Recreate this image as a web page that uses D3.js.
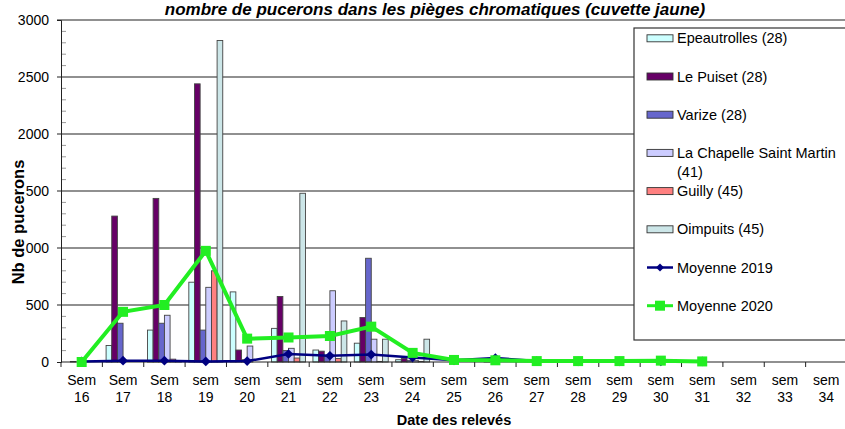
<!DOCTYPE html>
<html>
<head>
<meta charset="utf-8">
<script src="https://cdn.jsdelivr.net/npm/d3@7"></script>
<style>
body { margin: 0; background: #fff; }
text { font-family: Arial, "Liberation Sans", sans-serif; fill: #000; }
</style>
</head>
<body>
<script>
// semaines des relevés
var weeks = ["16","17","18","19","20","21","22","23","24","25","26","27","28","29","30","31","32","33","34"];
var weekPrefix = ["Sem","Sem","Sem","sem","sem","sem","sem","sem","sem","sem","sem","sem","sem","sem","sem","sem","sem","sem","sem"];

// pièges (barres)
var epeautrolles = [0, 145, 280, 700, 615, 295, 105, 165, 20, 0, 0, 0, 0, 0, 0, 0, 0, 0, 0];
var lePuiset     = [5, 1280, 1435, 2440, 105, 575, 95, 390, 30, 0, 5, 0, 0, 0, 0, 0, 0, 0, 0];
var varize       = [0, 340, 340, 280, 20, 100, 50, 910, 15, 0, 0, 0, 0, 0, 0, 0, 0, 0, 0];
var laChapelle   = [0, 0, 410, 655, 140, 120, 625, 200, 15, 0, 0, 0, 0, 0, 0, 0, 0, 0, 0];
var guilly       = [0, 0, 25, 800, 0, 35, 30, 5, 5, 0, 0, 0, 0, 0, 0, 0, 0, 0, 0];
var oimpuits     = [0, 0, 5, 2820, 0, 1480, 360, 200, 200, 0, 0, 0, 0, 0, 0, 0, 0, 0, 0];

// moyennes (courbes)
var moyenne2019 = [5, 12, 12, 5, 8, 70, 55, 65, 40, 15, 35, 8, 5, 5, 5, 5, null, null, null];
var moyenne2020 = [0, 440, 500, 975, 205, 215, 228, 310, 80, 18, 15, 8, 8, 8, 12, 5, null, null, null];

var barNames = ["Epeautrolles (28)", "Le Puiset (28)", "Varize (28)", "La Chapelle Saint Martin (41)", "Guilly (45)", "Oimpuits (45)"];
var barValues = [epeautrolles, lePuiset, varize, laChapelle, guilly, oimpuits];
var barColors = ["#CCFFFF", "#660066", "#6666CC", "#CCCCFF", "#FF8080", "#CCE6E8"];
var yTicks = [0, 500, 1000, 1500, 2000, 2500, 3000];

/** dimensions */
var margin = { top: 20, right: -2, bottom: 67, left: 61 },
    width = 845 - margin.left - margin.right,
    height = 429 - margin.top - margin.bottom;

var x0 = d3.scaleBand().domain(weeks).range([0, width]);
var bw = x0.bandwidth();
var x1 = d3.scaleBand().domain(barNames).range([bw * 0.09, bw * 0.91]);
var y = d3.scaleLinear().domain([0, 3000]).range([height, 0]);

var svg = d3.select("body").append("svg")
    .attr("width", 845)
    .attr("height", 429);

var g = svg.append("g")
    .attr("transform", "translate(" + margin.left + "," + margin.top + ")");

// grille horizontale
g.append("g").selectAll("line")
    .data(yTicks.slice(1))
    .enter().append("line")
    .attr("x1", -4).attr("x2", width)
    .attr("y1", function (d) { return y(d); })
    .attr("y2", function (d) { return y(d); })
    .attr("stroke", "#222").attr("stroke-width", 1.2);

// petites graduations tous les 100
g.append("g").selectAll("line")
    .data(d3.range(0, 3001, 100).filter(function (d) { return d % 500 != 0; }))
    .enter().append("line")
    .attr("x1", 1).attr("x2", 5)
    .attr("y1", function (d) { return y(d); })
    .attr("y2", function (d) { return y(d); })
    .attr("stroke", "#999").attr("stroke-width", 1);

// barres
barNames.forEach(function (name, s) {
    g.append("g").selectAll("rect")
        .data(barValues[s].map(function (v, i) { return { week: weeks[i], v: v }; })
            .filter(function (d) { return d.v > 0; }))
        .enter().append("rect")
        .attr("x", function (d) { return x0(d.week) + x1(name); })
        .attr("width", x1.bandwidth())
        .attr("y", function (d) { return y(d.v); })
        .attr("height", function (d) { return height - y(d.v); })
        .attr("fill", barColors[s])
        .attr("stroke", "#444")
        .attr("stroke-width", 0.9);
});

// axes
var yAxis = d3.axisLeft(y).tickValues(yTicks).tickFormat(d3.format("d")).tickSize(4).tickPadding(8);
g.append("g").call(yAxis)
    .call(function (a) {
        a.select(".domain").attr("stroke", "#222");
        a.selectAll(".tick line").remove();
        a.selectAll("text").attr("font-size", "14px").attr("font-family", "Arial, 'Liberation Sans', sans-serif");
    });

var xAxisG = g.append("g").attr("transform", "translate(0," + height + ")");
xAxisG.append("line")
    .attr("x1", 0).attr("x2", width)
    .attr("stroke", "#222").attr("stroke-width", 1.2);
xAxisG.selectAll("line.tk")
    .data(d3.range(weeks.length + 1))
    .enter().append("line")
    .attr("class", "tk")
    .attr("x1", function (i) { return i * bw; })
    .attr("x2", function (i) { return i * bw; })
    .attr("y1", 0).attr("y2", 5)
    .attr("stroke", "#222");
var xl = xAxisG.selectAll("text.wk")
    .data(weeks)
    .enter().append("text")
    .attr("class", "wk")
    .attr("x", function (d) { return x0(d) + bw / 2; })
    .attr("text-anchor", "middle")
    .attr("font-size", "14px");
xl.append("tspan").attr("x", function (d) { return x0(d) + bw / 2; }).attr("y", 23)
    .text(function (d, i) { return weekPrefix[i]; });
xl.append("tspan").attr("x", function (d) { return x0(d) + bw / 2; }).attr("y", 40)
    .text(function (d) { return d; });

// courbes des moyennes
var line = d3.line()
    .defined(function (d) { return d != null; })
    .x(function (d, i) { return x0(weeks[i]) + bw / 2; })
    .y(function (d) { return y(d); });

g.append("path").datum(moyenne2019)
    .attr("d", line)
    .attr("fill", "none").attr("stroke", "#000080").attr("stroke-width", 2.5);
g.append("g").selectAll("path")
    .data(moyenne2019.map(function (v, i) { return { week: weeks[i], v: v }; }).filter(function (d) { return d.v != null; }))
    .enter().append("path")
    .attr("d", d3.symbol().type(d3.symbolDiamond2).size(60))
    .attr("transform", function (d) { return "translate(" + (x0(d.week) + bw / 2) + "," + y(d.v) + ")"; })
    .attr("fill", "#000080");

g.append("path").datum(moyenne2020)
    .attr("d", line)
    .attr("fill", "none").attr("stroke", "#22EE22").attr("stroke-width", 4);
g.append("g").selectAll("rect")
    .data(moyenne2020.map(function (v, i) { return { week: weeks[i], v: v }; }).filter(function (d) { return d.v != null; }))
    .enter().append("rect")
    .attr("x", function (d) { return x0(d.week) + bw / 2 - 5; })
    .attr("y", function (d) { return y(d.v) - 5; })
    .attr("width", 10).attr("height", 10)
    .attr("fill", "#22EE22");

// légende
var legend = svg.append("g").attr("transform", "translate(634,28)");
legend.append("rect")
    .attr("width", 230).attr("height", 312)
    .attr("fill", "#fff").attr("stroke", "#333").attr("stroke-width", 1.2);

var legendItems = barNames.map(function (n, i) { return { name: n, type: "bar", color: barColors[i] }; })
    .concat([{ name: "Moyenne 2019", type: "line", color: "#000080" },
             { name: "Moyenne 2020", type: "line", color: "#22EE22" }]);

legendItems.forEach(function (it, i) {
    var row = legend.append("g").attr("transform", "translate(0," + (10.3 + i * 38.2) + ")");
    if (it.type == "bar") {
        row.append("rect").attr("x", 13).attr("y", -3.5).attr("width", 26).attr("height", 7)
            .attr("fill", it.color).attr("stroke", "#333").attr("stroke-width", 0.9);
    } else {
        row.append("line").attr("x1", 13).attr("x2", 39)
            .attr("stroke", it.color).attr("stroke-width", it.name == "Moyenne 2020" ? 3 : 2.5);
        if (it.name == "Moyenne 2020") {
            row.append("rect").attr("x", 21).attr("y", -5).attr("width", 10).attr("height", 10).attr("fill", it.color);
        } else {
            row.append("path").attr("d", d3.symbol().type(d3.symbolDiamond2).size(40))
                .attr("transform", "translate(26,0)").attr("fill", it.color);
        }
    }
    var t = row.append("text").attr("x", 43).attr("y", 5).attr("font-size", "14.5px");
    if (it.name.indexOf("La Chapelle") == 0) {
        t.append("tspan").attr("x", 43).text("La Chapelle Saint Martin");
        t.append("tspan").attr("x", 43).attr("dy", 19).text("(41)");
    } else {
        t.text(it.name);
    }
});

// titres
svg.append("text")
    .attr("x", 435).attr("y", 15)
    .attr("text-anchor", "middle")
    .attr("font-size", "17px").attr("font-weight", "bold").attr("font-style", "italic")
    .text("nombre de pucerons dans les pièges chromatiques (cuvette jaune)");

svg.append("text")
    .attr("x", margin.left + width / 2).attr("y", 425)
    .attr("text-anchor", "middle")
    .attr("font-size", "14.5px").attr("font-weight", "bold")
    .text("Date des relevés");

var yt = svg.append("g").attr("transform", "translate(24,222) rotate(-90)");
yt.append("rect").attr("x", -66).attr("y", -14).attr("width", 132).attr("height", 15.5).attr("fill", "#fff");
yt.append("text")
    .attr("text-anchor", "middle")
    .attr("font-size", "16.5px").attr("font-weight", "bold")
    .text("Nb de pucerons");
</script>
</body>
</html>
